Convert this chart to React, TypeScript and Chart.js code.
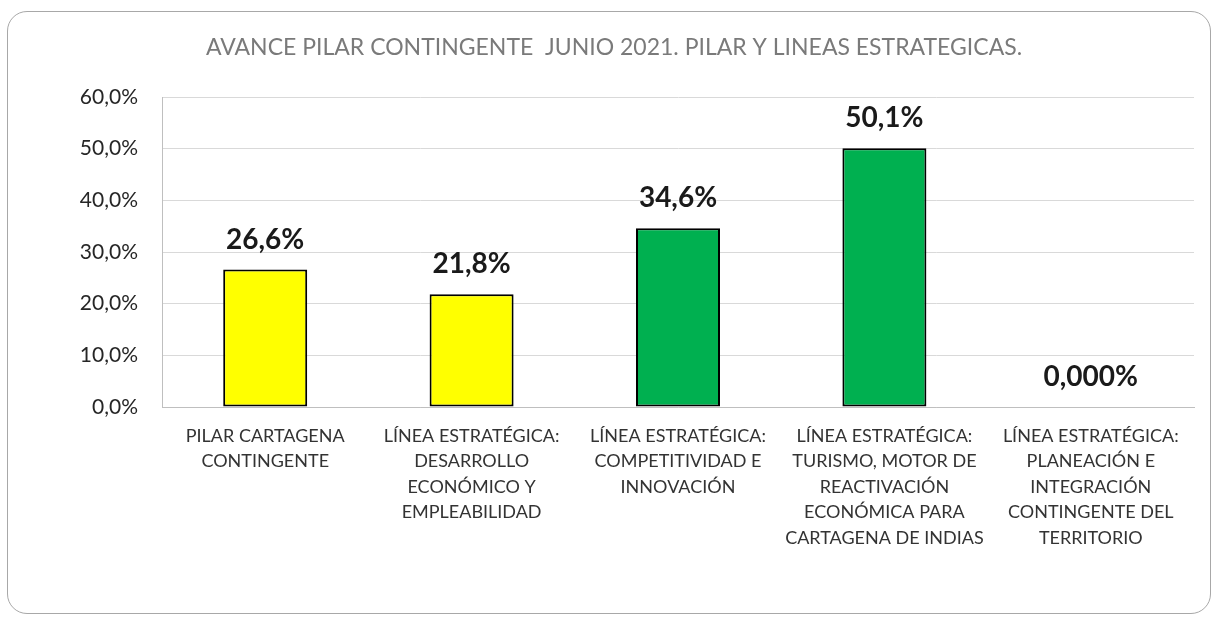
import React, { useEffect, useRef } from "react";
import { Chart, registerables } from "chart.js";

Chart.register(...registerables);

const titleText = "AVANCE PILAR CONTINGENTE  JUNIO 2021. PILAR Y LINEAS ESTRATEGICAS.";

const categories: string[][] = [
  ["PILAR CARTAGENA", "CONTINGENTE"],
  ["LÍNEA ESTRATÉGICA:", "DESARROLLO", "ECONÓMICO Y", "EMPLEABILIDAD"],
  ["LÍNEA ESTRATÉGICA:", "COMPETITIVIDAD E", "INNOVACIÓN"],
  ["LÍNEA ESTRATÉGICA:", "TURISMO, MOTOR DE", "REACTIVACIÓN", "ECONÓMICA PARA", "CARTAGENA DE INDIAS"],
  ["LÍNEA ESTRATÉGICA:", "PLANEACIÓN E", "INTEGRACIÓN", "CONTINGENTE DEL", "TERRITORIO"],
];

const values = [26.6, 21.8, 34.6, 50.1, 0];
const labelDecimals = [1, 1, 1, 1, 3];
const barColors = ["#FFFF00", "#FFFF00", "#00B050", "#00B050", "#00B050"];

const yMin = 0;
const yMax = 60;
const yStep = 10;

const fmtPct = (v: number, d: number) => v.toFixed(d).replace(".", ",") + "%";

const FONT = "Lato, 'Open Sans', sans-serif";

const titlePlugin = {
  id: "centeredTitle",
  afterDraw(chart: any) {
    const ctx = chart.ctx;
    ctx.save();
    ctx.font = `23px ${FONT}`;
    ctx.fillStyle = "#7a7a7a";
    ctx.textAlign = "center";
    ctx.textBaseline = "middle";
    ctx.fillText(titleText, 614, 48);
    ctx.restore();
  },
};

const dataLabelPlugin = {
  id: "dataLabels",
  afterDatasetsDraw(chart: any) {
    const ctx = chart.ctx;
    const meta = chart.getDatasetMeta(0);
    ctx.save();
    ctx.font = `bold 28px ${FONT}`;
    ctx.fillStyle = "#1a1a1a";
    ctx.textAlign = "center";
    ctx.textBaseline = "alphabetic";
    meta.data.forEach((el: any, i: number) => {
      ctx.fillText(fmtPct(values[i], labelDecimals[i]), el.x, el.y - 21);
    });
    ctx.restore();
  },
};

export default function App() {
  const canvasRef = useRef<HTMLCanvasElement | null>(null);

  useEffect(() => {
    if (!canvasRef.current) return;
    const chart = new Chart(canvasRef.current, {
      type: "bar",
      data: {
        labels: categories,
        datasets: [
          {
            data: values,
            backgroundColor: barColors,
            borderColor: "#000000",
            borderWidth: 2,
            borderSkipped: false,
            barPercentage: 0.407,
            categoryPercentage: 1,
          },
        ],
      },
      options: {
        animation: false,
        responsive: false,
        maintainAspectRatio: false,
        layout: { padding: { left: 0, right: 19, top: 97, bottom: 0 } },
        plugins: {
          legend: { display: false },
          tooltip: { enabled: false },
          title: { display: false },
        },
        scales: {
          x: {
            grid: { display: false, drawTicks: false },
            border: { display: true, color: "#bfbfbf", width: 1 },
            ticks: {
              color: "#333333",
              font: { family: FONT, size: 18, lineHeight: 1.42 },
              padding: 16,
              maxRotation: 0,
              autoSkip: false,
            },
            afterFit: (s: any) => {
              s.height = 211;
            },
          },
          y: {
            min: yMin,
            max: yMax,
            grid: { color: "#d9d9d9", lineWidth: 1, drawTicks: false },
            border: { display: true, color: "#bfbfbf", width: 1 },
            ticks: {
              stepSize: yStep,
              color: "#262626",
              font: { family: FONT, size: 21 },
              padding: 24,
              callback: (v: any) => fmtPct(Number(v), 1),
            },
            afterFit: (s: any) => {
              s.width = 162;
            },
          },
        },
      },
      plugins: [dataLabelPlugin, titlePlugin],
    });
    return () => chart.destroy();
  }, []);

  return (
    <div style={{ position: "fixed", left: 0, top: 0, width: 1213, height: 618, background: "#ffffff" }}>
      <div
        style={{
          position: "absolute",
          left: 7,
          top: 11,
          width: 1204,
          height: 603,
          border: "1px solid #a8a8a8",
          borderRadius: 20,
          boxSizing: "border-box",
        }}
      />
      <canvas
        ref={canvasRef}
        width={1213}
        height={618}
        style={{ position: "absolute", left: 0, top: 0, width: 1213, height: 618 }}
      />
    </div>
  );
}
